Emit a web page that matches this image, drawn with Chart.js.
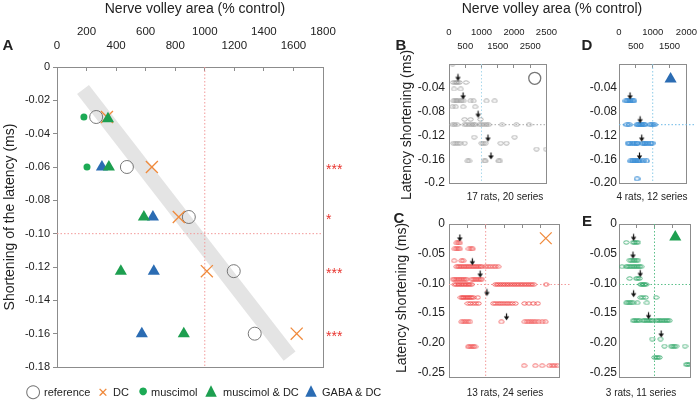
<!DOCTYPE html>
<html>
<head>
<meta charset="utf-8">
<script src="https://cdn.jsdelivr.net/npm/chart.js@4"></script>
<style>
  html, body { margin: 0; padding: 0; background: #fff; }
  body { width: 700px; height: 401px; position: relative; overflow: hidden;
         font-family: "Liberation Sans", Arial, sans-serif; color: #222; }
  canvas { position: absolute; }
  .t { position: absolute; white-space: nowrap; line-height: 1; transform: translate(-50%, -50%); }
  .l { position: absolute; white-space: nowrap; line-height: 1; transform: translate(0, -50%); font-size: 11px; }
  .v { transform: translate(-50%, -50%) rotate(-90deg); font-size: 14px; }
  .big { font-size: 14px; }
  .tag { font-size: 15px; font-weight: bold; }
  .note { font-size: 10px; }
  .sym { font-family: "DejaVu Sans"; }
</style>
</head>
<body>
<canvas id="A" width="392" height="380" style="left:0;top:0"></canvas>
<canvas id="B" width="180" height="196" style="left:392px;top:0"></canvas>
<canvas id="D" width="140" height="196" style="left:572px;top:0"></canvas>
<canvas id="C" width="180" height="196" style="left:392px;top:195px"></canvas>
<canvas id="E" width="140" height="196" style="left:572px;top:195px"></canvas>

<div class="t big" style="left:195px;top:8px">Nerve volley area (% control)</div>
<div class="t big" style="left:552px;top:8px">Nerve volley area (% control)</div>
<div class="t tag" style="left:8px;top:44px">A</div>
<div class="t tag" style="left:401px;top:44px">B</div>
<div class="t tag" style="left:587px;top:44px">D</div>
<div class="t tag" style="left:399px;top:217px">C</div>
<div class="t tag" style="left:587px;top:220px">E</div>
<div class="t v" style="left:9px;top:217px">Shortening of the latency (ms)</div>
<div class="t v" style="left:406px;top:125px">Latency shortening (ms)</div>
<div class="t v" style="left:401px;top:298px">Latency shortening (ms)</div>
<div class="t note" style="left:505px;top:197px">17 rats, 20 series</div>
<div class="t note" style="left:652px;top:197px">4 rats, 12 series</div>
<div class="t note" style="left:505px;top:393px">13 rats, 24 series</div>
<div class="t note" style="left:641px;top:393px">3 rats, 11 series</div>

<div class="t sym" style="left:33px;top:391px;font-size:18px;color:#777">○</div>
<div class="l" style="left:44px;top:392px">reference</div>
<div class="t sym" style="left:103px;top:392px;font-size:13px;color:#f08a3c">✕</div>
<div class="l" style="left:113px;top:392px">DC</div>
<div class="t sym" style="left:143px;top:391px;font-size:10px;color:#1caa55">●</div>
<div class="l" style="left:151px;top:392px">muscimol</div>
<div class="t sym" style="left:211px;top:390px;font-size:15px;color:#1d9f50">▲</div>
<div class="l" style="left:223px;top:392px">muscimol &amp; DC</div>
<div class="t sym" style="left:311px;top:390px;font-size:15px;color:#2b6cb3">▲</div>
<div class="l" style="left:322px;top:392px">GABA &amp; DC</div>

<script>
// ---- panel A: mean shortening vs nerve volley area ----
const aXTicks = [0, 200, 400, 600, 800, 1000, 1200, 1400, 1600, 1800];
const aXLabels = ['0', '200', '400', '600', '800', '1000', '1200', '1400', '1600', '1800'];
const aYTicks = [0, -0.02, -0.04, -0.06, -0.08, -0.1, -0.12, -0.14, -0.16, -0.18];
const aYLabels = ['0', '-0.02', '-0.04', '-0.06', '-0.08', '-0.10', '-0.12', '-0.14', '-0.16', '-0.18'];

const aRefX = [265, 473, 892, 1196, 1338];
const aRefY = [-0.03, -0.06, -0.09, -0.1225, -0.16];
const aDcX = [338, 642, 824, 1014, 1622];
const aDcY = [-0.03, -0.06, -0.09, -0.1225, -0.16];
const aMusX = [182, 203];
const aMusY = [-0.03, -0.06];
const aMusDcX = [345, 351, 588, 432, 858];
const aMusDcY = [-0.031, -0.06, -0.09, -0.1225, -0.16];
const aGabaX = [304, 649, 655, 574];
const aGabaY = [-0.06, -0.09, -0.1225, -0.16];
const aBandX = [176, 1574];
const aBandY = [-0.0135, -0.1735];
const aStarLevels = [-0.06, -0.09, -0.1225, -0.16];
const aStarText = ['***', '*', '***', '***'];

// ---- panels B-E: individual series ----
const bXTicks = [0, 500, 1000, 1500, 2000, 2500, 3000];
const bXLabels = ['0', '500', '1000', '1500', '2000', '2500', '2500'];
const bYTicks = [-0.04, -0.08, -0.12, -0.16, -0.2];
const bYLabels = ['-0.04', '-0.08', '-0.12', '-0.16', '-0.2'];
const bLevels = [0, -0.031, -0.042, -0.062, -0.072, -0.093, -0.102, -0.123, -0.133, -0.143, -0.163];
const bRows = [
  [110],
  [130, 185, 230, 275, 325, 525],
  [155, 360],
  [140, 185, 230, 275, 340, 390, 450, 665, 755, 1155, 1405],
  [110, 205, 435, 805],
  [480, 665, 970],
  [110, 175, 250, 480, 545, 620, 690, 755, 805, 940, 1005, 1080, 1155, 1220, 1635, 2075, 2465],
  [775, 2020],
  [140, 205, 270, 340, 480, 1005, 1060, 1125, 1590, 1770],
  [2695, 2990],
  [570, 620, 1080, 1125, 1525, 1570]
];
const bArrowX = [277, 434, 895, 1200, 1292];
const bArrowY = [-0.031, -0.062, -0.093, -0.133, -0.163];

const dXTicks = [0, 500, 1000, 1500, 2000];
const dXLabels = ['0', '500', '1000', '1500', '2000'];
const dYTicks = [-0.04, -0.08, -0.12, -0.16, -0.2];
const dYLabels = ['-0.04', '-0.08', '-0.12', '-0.16', '-0.20'];
const dLevels = [-0.062, -0.102, -0.133, -0.163, -0.193];
const dRows = [
  [205, 250, 300, 345, 395, 440],
  [235, 300, 535, 580, 625, 675, 720, 765, 925, 980, 1045],
  [270, 325, 395, 460, 515, 550, 700, 750, 795, 860, 925, 980],
  [345, 395, 440, 485, 535, 580, 625, 720, 815],
  [535]
];
const dArrowX = [327, 626, 673, 608];
const dArrowY = [-0.062, -0.102, -0.133, -0.163];

const cYTicks = [0, -0.05, -0.1, -0.15, -0.2, -0.25];
const cYLabels = ['0', '-0.05', '-0.10', '-0.15', '-0.20', '-0.25'];
const cLevels = [-0.032, -0.042, -0.062, -0.072, -0.093, -0.102, -0.124, -0.134, -0.165, -0.207, -0.239];
const cRows = [
  [205, 250, 295],
  [155, 205, 250, 295, 545, 600, 645],
  [140, 340, 390],
  [205, 250, 295, 340, 390, 435, 480, 525, 570, 620, 665, 710, 755, 805, 850, 895, 990, 1060, 1125, 1200, 1265, 1340],
  [110, 155, 205, 250, 295, 340, 390, 435, 480, 620, 665, 710, 755, 805, 850, 895],
  [155, 205, 250, 295, 340, 390, 435, 480, 525, 570, 620, 1265, 1320, 1375, 1430, 1485, 1540, 1595, 1650, 1710,
   1765, 1820, 1875, 1930, 1985, 2040, 2095, 2150, 2205, 2260, 2315, 2650],
  [325, 360, 395, 435, 470, 510, 545, 580, 620, 665, 785],
  [515, 585, 660, 735, 805, 1210, 1275, 1340, 1400, 1465, 1530, 1595, 1660, 1730, 1815, 2060, 2180, 2300, 2420],
  [340, 400, 455, 515, 570, 1430, 2065, 2130, 2190, 2250, 2310, 2370, 2445, 2540, 2630],
  [525, 570, 620, 665, 710],
  [2050, 2355, 2540, 2740, 2815, 2880, 2955]
];
const cArrowX = [295, 637, 849, 1034, 1569];
const cArrowY = [-0.032, -0.072, -0.093, -0.124, -0.165];

const eLevels = [-0.031, -0.061, -0.072, -0.092, -0.102, -0.124, -0.133, -0.163, -0.194, -0.206, -0.225, -0.237];
const eRows = [
  [205, 395, 440, 485, 535],
  [300, 345, 395, 440, 485, 535],
  [85, 205, 250, 300, 345, 395, 440, 485, 535, 580, 625],
  [300, 485, 535, 580],
  [610, 645, 685, 720, 765],
  [610, 675, 750, 1045],
  [205, 250, 300, 345, 395, 515, 785],
  [395, 440, 485, 535, 580, 675, 720, 765, 815, 860, 905, 955, 1045, 1095, 1140, 1185, 1235, 1280, 1330, 1375, 1420],
  [935, 1170],
  [1280, 1470, 1515, 1560, 1610, 1860],
  [1000, 1045, 1095, 1140],
  [1890, 1935, 1980]
];
const eArrowX = [411, 393, 598, 411, 832, 1187];
const eArrowY = [-0.031, -0.061, -0.092, -0.126, -0.163, -0.194];

// symbol shown in the corner of each small panel
const bIcon = { x: 2640, y: -0.024 };
const cIcon = { x: 2640, y: -0.024 };
const dIcon = { x: 1530, y: -0.025 };
const eIcon = { x: 1585, y: -0.022 };

const FONT = '"Liberation Sans", Arial, sans-serif';
const FRAME = '#8c8c8c';
Chart.defaults.font.family = FONT;
Chart.defaults.color = '#222';
Chart.defaults.animation = false;
Chart.defaults.events = [];
Chart.defaults.plugins.legend.display = false;
Chart.defaults.plugins.tooltip.enabled = false;

// small open ellipse used for single measurements
function ring(color, lw) {
  const c = document.createElement('canvas');
  c.width = 7; c.height = 5;
  const g = c.getContext('2d');
  g.strokeStyle = color;
  g.lineWidth = lw;
  g.beginPath();
  g.ellipse(3.5, 2.5, 2.7, 1.7, 0, 0, Math.PI * 2);
  g.stroke();
  return c;
}

// down arrow whose tip sits just above the point
function arrow() {
  const c = document.createElement('canvas');
  c.width = 7; c.height = 20;
  const g = c.getContext('2d');
  g.strokeStyle = '#111';
  g.fillStyle = '#111';
  g.lineWidth = 1.2;
  g.beginPath(); g.moveTo(3.5, 1.5); g.lineTo(3.5, 6); g.stroke();
  g.beginPath(); g.moveTo(0.8, 4.5); g.lineTo(6.2, 4.5); g.lineTo(3.5, 8.5); g.closePath(); g.fill();
  return c;
}

const pairs = (xs, ys) => xs.map((x, i) => ({ x, y: ys[i] }));
const rowsToPoints = (levels, rows) => rows.flatMap((xs, i) => xs.map(x => ({ x, y: levels[i] })));
const fixedTicks = values => s => { s.ticks = values.map(v => ({ value: v })); };
// two staggered rows of labels on the top axis
const stagger = (labels, lowFirst) => (v, i) =>
  ((i % 2 === 0) === lowFirst) ? ['', labels[i]] : [labels[i], ''];

function guide(data, color) {
  return { data, showLine: true, borderColor: color, borderWidth: 1, borderDash: [1.5, 2],
           pointRadius: 0, order: 9, clip: false };
}

function dots(levels, rows, color, lw) {
  return { data: rowsToPoints(levels, rows), pointStyle: ring(color, lw), order: 2 };
}

function arrows(xs, ys) {
  return { data: pairs(xs, ys), pointStyle: arrow(), order: 1 };
}

function frame(position, size) {
  return {
    type: 'linear', position,
    afterFit: s => { if (position === 'right') s.width = size; else s.height = size; },
    ticks: { display: false },
    grid: { drawOnChartArea: false, drawTicks: false },
    border: { color: FRAME }
  };
}

function panel(id, o) {
  return new Chart(document.getElementById(id), {
    type: 'scatter',
    data: { datasets: o.datasets },
    options: {
      responsive: false,
      devicePixelRatio: 1,
      layout: { padding: 0 },
      scales: {
        x: {
          type: 'linear', position: 'top', min: o.xMin, max: o.xMax,
          afterFit: s => { s.height = o.top; },
          afterBuildTicks: fixedTicks(o.xTicks),
          ticks: { callback: o.xLabel, font: { size: o.xFont, lineHeight: o.xLine }, padding: o.xPad,
                   maxRotation: 0, minRotation: 0, autoSkip: false, color: '#222' },
          grid: { drawOnChartArea: false, tickLength: -4, color: FRAME },
          border: { color: FRAME }
        },
        y: {
          type: 'linear', min: o.yMin, max: o.yMax,
          afterFit: s => { s.width = o.left; },
          afterBuildTicks: fixedTicks(o.yTicks),
          ticks: { callback: (v, i) => o.yLabels[i], font: { size: o.yFont }, padding: o.yPad,
                   autoSkip: false, color: '#222' },
          grid: { drawOnChartArea: false, drawTicks: o.yTickLen > 0, tickLength: o.yTickLen, color: FRAME },
          border: { color: FRAME }
        },
        x2: frame('bottom', o.bottom),
        y2: frame('right', o.right)
      }
    },
    plugins: o.plugins || []
  });
}

const starsPlugin = {
  id: 'stars',
  afterDraw(chart) {
    const { ctx, chartArea, scales } = chart;
    ctx.save();
    ctx.fillStyle = '#e8352f';
    ctx.font = '14px ' + FONT;
    ctx.textBaseline = 'middle';
    aStarLevels.forEach((lv, i) => {
      ctx.fillText(aStarText[i], chartArea.right + 3, scales.y.getPixelForValue(lv) + 3);
    });
    ctx.restore();
  }
};

panel('A', {
  xMin: 0, xMax: 1800, xTicks: aXTicks, xLabel: stagger(aXLabels, true),
  xFont: 11.5, xLine: 1.22, xPad: 18,
  yMin: -0.18, yMax: 0, yTicks: aYTicks, yLabels: aYLabels, yFont: 11, yPad: 3, yTickLen: 4,
  top: 67, left: 57, right: 69, bottom: 13,
  plugins: [starsPlugin],
  datasets: [
    { data: pairs(aBandX, aBandY), showLine: true, borderColor: '#e4e4e4', borderWidth: 15,
      borderCapStyle: 'butt', pointRadius: 0, order: 10 },
    guide([{ x: 1000, y: 0 }, { x: 1000, y: -0.18 }], '#f29a9a'),
    guide([{ x: 0, y: -0.1 }, { x: 1800, y: -0.1 }], '#f29a9a'),
    { data: pairs(aRefX, aRefY), pointStyle: 'circle', pointRadius: 6.5, pointBorderWidth: 1,
      pointBorderColor: '#777', pointBackgroundColor: 'rgba(255,255,255,0)', order: 4 },
    { data: pairs(aDcX, aDcY), pointStyle: 'crossRot', pointRadius: 8.5, pointBorderWidth: 1.3,
      pointBorderColor: '#f08a3c', order: 3 },
    { data: pairs(aMusX, aMusY), pointStyle: 'circle', pointRadius: 3.5, pointBorderWidth: 0,
      pointBackgroundColor: '#1caa55', order: 2 },
    { data: pairs(aGabaX, aGabaY), pointStyle: 'triangle', pointRadius: 7, pointBorderWidth: 0,
      pointBackgroundColor: '#2b6cb3', order: 1 },
    { data: pairs(aMusDcX, aMusDcY), pointStyle: 'triangle', pointRadius: 7, pointBorderWidth: 0,
      pointBackgroundColor: '#1d9f50', order: 0 }
  ]
});

panel('B', {
  xMin: 0, xMax: 3000, xTicks: bXTicks, xLabel: stagger(bXLabels, false),
  xFont: 9.5, xLine: 1.47, xPad: 15,
  yMin: -0.2, yMax: 0, yTicks: bYTicks, yLabels: bYLabels, yFont: 12, yPad: 4, yTickLen: 0,
  top: 64, left: 57, right: 13, bottom: 13,
  datasets: [
    guide([{ x: 1000, y: 0 }, { x: 1000, y: -0.2 }], '#a9d8ec'),
    guide([{ x: 0, y: -0.102 }, { x: 3000, y: -0.102 }], '#a8a8a8'),
    dots(bLevels, bRows, '#9a9a9a', 0.8),
    arrows(bArrowX, bArrowY),
    { data: [bIcon], pointStyle: 'circle', pointRadius: 6, pointBorderWidth: 1.3,
      pointBorderColor: '#777', pointBackgroundColor: 'rgba(255,255,255,0)', order: 0 }
  ]
});

panel('D', {
  xMin: 0, xMax: 2000, xTicks: dXTicks, xLabel: stagger(dXLabels, false),
  xFont: 9.5, xLine: 1.47, xPad: 15,
  yMin: -0.2, yMax: 0, yTicks: dYTicks, yLabels: dYLabels, yFont: 12, yPad: 2, yTickLen: 0,
  top: 64, left: 47, right: 22, bottom: 13,
  datasets: [
    guide([{ x: 1000, y: 0 }, { x: 1000, y: -0.2 }], '#8ccbe8'),
    guide([{ x: 0, y: -0.102 }, { x: 2250, y: -0.102 }], '#6bb8e6'),
    dots(dLevels, dRows, '#3c8fd6', 1.1),
    arrows(dArrowX, dArrowY),
    { data: [dIcon], pointStyle: 'triangle', pointRadius: 7, pointBorderWidth: 0,
      pointBackgroundColor: '#2b6cb3', order: 0 }
  ]
});

panel('C', {
  xMin: 0, xMax: 3000, xTicks: bXTicks, xLabel: () => '',
  xFont: 9.5, xLine: 1.2, xPad: 3,
  yMin: -0.258, yMax: 0, yTicks: cYTicks, yLabels: cYLabels, yFont: 12, yPad: 4, yTickLen: 0,
  top: 29, left: 57, right: 13, bottom: 14,
  datasets: [
    guide([{ x: 1000, y: 0 }, { x: 1000, y: -0.258 }], '#f29a9a'),
    guide([{ x: 0, y: -0.102 }, { x: 3300, y: -0.102 }], '#f29a9a'),
    dots(cLevels, cRows, '#f04848', 0.8),
    arrows(cArrowX, cArrowY),
    { data: [cIcon], pointStyle: 'crossRot', pointRadius: 8.3, pointBorderWidth: 1.3,
      pointBorderColor: '#f08a3c', order: 0 }
  ]
});

panel('E', {
  xMin: 0, xMax: 2000, xTicks: dXTicks, xLabel: () => '',
  xFont: 9.5, xLine: 1.2, xPad: 3,
  yMin: -0.258, yMax: 0, yTicks: cYTicks, yLabels: cYLabels, yFont: 12, yPad: 2, yTickLen: 0,
  top: 29, left: 47, right: 22, bottom: 14,
  datasets: [
    guide([{ x: 1000, y: 0 }, { x: 1000, y: -0.258 }], '#5cc08a'),
    guide([{ x: 0, y: -0.102 }, { x: 2000, y: -0.102 }], '#5cc08a'),
    dots(eLevels, eRows, '#2aa463', 0.8),
    arrows(eArrowX, eArrowY),
    { data: [eIcon], pointStyle: 'triangle', pointRadius: 7, pointBorderWidth: 0,
      pointBackgroundColor: '#1d9f50', order: 0 }
  ]
});
</script>
</body>
</html>
